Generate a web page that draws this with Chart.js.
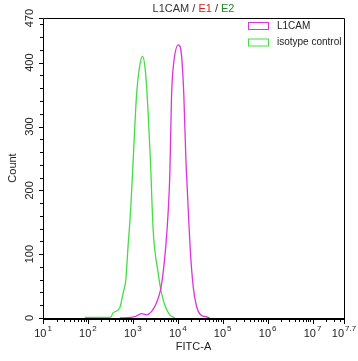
<!DOCTYPE html>
<html>
<head>
<meta charset="utf-8">
<script src="https://cdn.jsdelivr.net/npm/chart.js@4"></script>
<style>
  body { margin: 0; background: #fff; }
</style>
</head>
<body>
<canvas id="histo" width="358" height="361"></canvas>
<script>
// FITC intensities and event counts
var isoFitc = [85, 318, 363, 512, 607, 697, 783, 885, 982, 1205, 1429, 1641, 1914, 2188, 2472, 2825, 3648, 4345, 5420, 6653, 8610];
var isoCount = [1, 1, 8, 16, 39, 60, 113, 165, 225, 348, 396, 410, 385, 322, 244, 139, 71, 39, 16, 5, 0];

var l1camFitc = [512, 1104, 1556, 2014, 2600, 3365, 4130, 4721, 5420, 6095, 6653, 7261, 8166, 10400, 12130, 13650, 15140, 16330, 17620, 19050, 21980, 26180, 32140, 42170, 51760];
var l1camCount = [0, 2, 7, 5, 10, 24, 44, 71, 113, 165, 225, 348, 401, 428, 411, 348, 250, 200, 150, 105, 50, 18, 5, 2, 0];

var seriesNames = ["L1CAM", "isotype control"];
var seriesColors = ["#dd33dd", "#44dd44"];

var yMajor = [0, 100, 200, 300, 400, 470];
var xMajorExp = [1, 2, 3, 4, 5, 6, 7, 7.7];

var titleParts = [["L1CAM", "#333333"], [" / ", "#333333"], ["E1", "#cc2222"], [" / ", "#333333"], ["E2", "#228822"]];

function points(xs, ys) {
   return xs.map(function (v, i) { return { x: v, y: ys[i] }; });
}

var font = "Liberation Sans, Arial, sans-serif";

var flowAxes = {
   id: "flowAxes",
   afterDraw: function (chart) {
      var ctx = chart.ctx;
      var a = chart.chartArea;
      var x = chart.scales.x;
      var y = chart.scales.y;
      ctx.save();
      ctx.strokeStyle = "#000";
      ctx.fillStyle = "#222";

      // frame
      ctx.lineWidth = 1;
      ctx.beginPath();
      ctx.moveTo(a.left + 0.5, a.bottom);
      ctx.lineTo(a.left + 0.5, a.top + 0.5);
      ctx.lineTo(a.right + 0.5, a.top + 0.5);
      ctx.lineTo(a.right + 0.5, a.bottom);
      ctx.stroke();
      ctx.lineWidth = 2;
      ctx.beginPath();
      ctx.moveTo(a.left, a.bottom + 1);
      ctx.lineTo(a.right + 1, a.bottom + 1);
      ctx.stroke();

      // x ticks
      ctx.lineWidth = 1;
      ctx.beginPath();
      for (var e = 1; e <= 7; e++) {
         for (var k = 2; k <= 9; k++) {
            var v = k * Math.pow(10, e);
            if (v > x.max) break;
            var px = Math.round(x.getPixelForValue(v)) + 0.5;
            ctx.moveTo(px, a.bottom + 1);
            ctx.lineTo(px, a.bottom + 4);
         }
      }
      xMajorExp.forEach(function (ex) {
         var px = Math.round(x.getPixelForValue(Math.pow(10, ex))) + 0.5;
         ctx.moveTo(px, a.bottom + 1);
         ctx.lineTo(px, a.bottom + 6);
      });
      ctx.stroke();

      // x labels 10^n
      ctx.textBaseline = "alphabetic";
      ctx.textAlign = "left";
      xMajorExp.forEach(function (ex) {
         var px = x.getPixelForValue(Math.pow(10, ex));
         ctx.font = "11px " + font;
         var w1 = ctx.measureText("10").width;
         ctx.font = "8px " + font;
         var sup = String(ex);
         var w2 = ctx.measureText(sup).width;
         var start = px - (w1 + 1 + w2) / 2;
         ctx.font = "11px " + font;
         ctx.fillText("10", start, 337);
         ctx.font = "8px " + font;
         ctx.fillText(sup, start + w1 + 1, 331);
      });

      // y ticks
      ctx.beginPath();
      for (var t = 0; t <= 470; t += 20) {
         var py = Math.round(y.getPixelForValue(t)) + 0.5;
         ctx.moveTo(a.left, py);
         ctx.lineTo(a.left - 3, py);
      }
      yMajor.forEach(function (t) {
         var py = Math.round(y.getPixelForValue(t)) + 0.5;
         ctx.moveTo(a.left, py);
         ctx.lineTo(a.left - 4, py);
      });
      ctx.stroke();

      // y labels, rotated
      ctx.font = "11px " + font;
      ctx.textAlign = "center";
      ctx.textBaseline = "middle";
      yMajor.forEach(function (t) {
         var py = y.getPixelForValue(t);
         ctx.save();
         ctx.translate(30, py);
         ctx.rotate(-Math.PI / 2);
         ctx.fillText(String(t), 0, 0);
         ctx.restore();
      });

      // axis titles
      ctx.save();
      ctx.translate(13, (a.top + a.bottom) / 2);
      ctx.rotate(-Math.PI / 2);
      ctx.fillText("Count", 0, 0);
      ctx.restore();
      ctx.textBaseline = "alphabetic";
      ctx.fillText("FITC-A", (a.left + a.right) / 2, 350);

      // title in colors
      ctx.font = "11px " + font;
      ctx.textAlign = "left";
      var total = 0;
      titleParts.forEach(function (p) { total += ctx.measureText(p[0]).width; });
      var tx = (a.left + a.right) / 2 - total / 2;
      titleParts.forEach(function (p) {
         ctx.fillStyle = p[1];
         ctx.fillText(p[0], tx, 12);
         tx += ctx.measureText(p[0]).width;
      });

      // legend
      ctx.font = "10px " + font;
      ctx.textBaseline = "middle";
      seriesNames.forEach(function (name, i) {
         var ly = 26 + i * 16.5;
         ctx.fillStyle = "#fff";
         ctx.fillRect(248.5, ly - 3.5, 20, 7);
         ctx.strokeStyle = seriesColors[i];
         ctx.lineWidth = 1;
         ctx.strokeRect(248.5, ly - 3.5, 20, 7);
         ctx.fillStyle = "#222";
         ctx.fillText(name, 277, ly);
      });
      ctx.restore();
   }
};

new Chart("histo", {
   type: "line",
   data: {
      datasets: [{
         label: seriesNames[0],
         data: points(l1camFitc, l1camCount),
         borderColor: seriesColors[0],
         borderWidth: 1.3,
         pointRadius: 0,
         fill: false,
         cubicInterpolationMode: "monotone"
      }, {
         label: seriesNames[1],
         data: points(isoFitc, isoCount),
         borderColor: seriesColors[1],
         borderWidth: 1.3,
         pointRadius: 0,
         fill: false,
         cubicInterpolationMode: "monotone"
      }]
   },
   options: {
      responsive: false,
      animation: false,
      layout: { padding: { left: 43, top: 18, right: 14, bottom: 43 } },
      plugins: {
         legend: { display: false },
         title: { display: false },
         tooltip: { enabled: false }
      },
      scales: {
         x: { type: "logarithmic", display: false, min: 10, max: Math.pow(10, 7.7) },
         y: { type: "linear", display: false, min: 0, max: 470 }
      }
   },
   plugins: [flowAxes]
});
</script>
</body>
</html>
